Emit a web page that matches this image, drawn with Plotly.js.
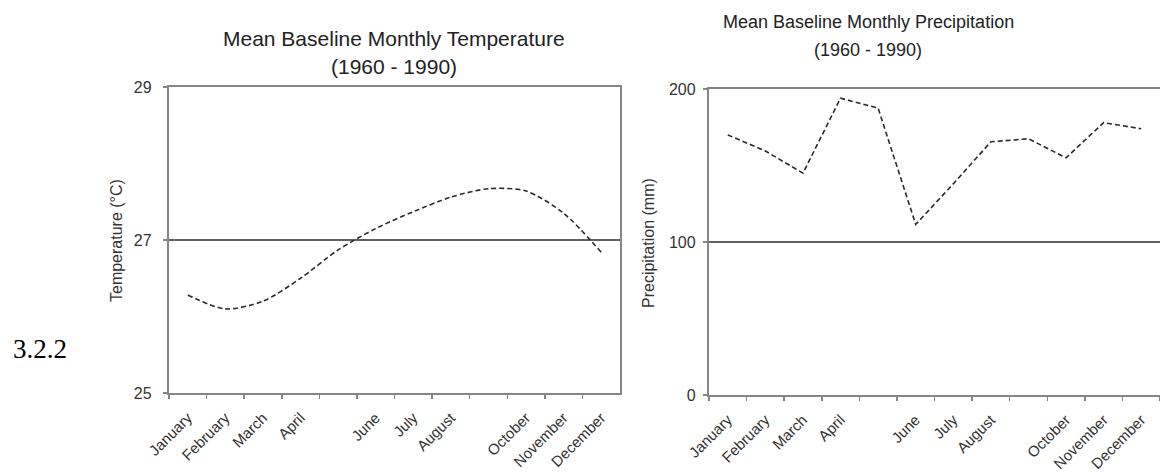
<!DOCTYPE html>
<html>
<head>
<meta charset="utf-8">
<script src="https://cdn.plot.ly/plotly-3.0.1.min.js"></script>
<style>html,body{margin:0;padding:0;background:#fff;}#chart{width:1160px;height:473px;}</style>
</head>
<body>
<div id="chart"></div>
<script>
// ---- data ----
const months = ["January","February","March","April","May","June","July","August","September","October","November","December"];
const monthLabels = ["January","February","March","April","","June","July","August","","October","November","December"];
const temperature = [26.28, 26.10, 26.20, 26.50, 26.87, 27.15, 27.37, 27.56, 27.67, 27.64, 27.35, 26.84];
const precipitation = [170, 159.5, 145, 194, 187.5, 111.5, 138, 165.5, 167.5, 155, 178, 174];
const tempTicks = [25, 27, 29];
const precipTicks = [0, 100, 200];

const FONT = "Liberation Sans, Arial, sans-serif";
const axisColor = "#858585";

const traces = [
  {x: months, y: temperature, xaxis: "x", yaxis: "y", mode: "lines",
   line: {color: "#2a2a2a", width: 1.6, dash: "5px,3px", shape: "spline", smoothing: 0.8}, hoverinfo: "x+y"},
  {x: months, y: precipitation, xaxis: "x2", yaxis: "y2", mode: "lines",
   line: {color: "#2a2a2a", width: 1.6, dash: "5px,3px"}, hoverinfo: "x+y"}
];

function xAx(domain, anchor) {
  return {domain: domain, anchor: anchor, type: "category", categoryorder: "array", categoryarray: months,
    range: [-0.5, months.length - 0.5],
    tickvals: months, ticktext: monthLabels, tickson: "boundaries", tickangle: -45,
    ticks: "outside", ticklen: 4, tickwidth: 1.5, tickcolor: axisColor, ticklabelstandoff: 8,
    showline: true, linecolor: axisColor, linewidth: 2.2, mirror: true, showgrid: false, zeroline: false,
    tickfont: {family: FONT, size: 15, color: "#333"}, fixedrange: true};
}
function yAx(domain, anchor, range, ticks, standoff, mirror) {
  return {domain: domain, anchor: anchor, range: range, tickvals: ticks, ticktext: ticks.map(String),
    ticks: "outside", ticklen: 4, tickwidth: 1.5, tickcolor: axisColor, ticklabelstandoff: standoff,
    showline: true, linecolor: axisColor, linewidth: 2.2, mirror: mirror,
    showgrid: true, gridcolor: "#616161", gridwidth: 1.5, zeroline: false,
    tickfont: {family: FONT, size: 16, color: "#333"}, fixedrange: true};
}

const layout = {
  width: 1160, height: 473, margin: {l: 0, r: 0, t: 0, b: 0},
  paper_bgcolor: "#fff", plot_bgcolor: "#fff", showlegend: false,
  xaxis: xAx([169/1160, 620/1160], "y"),
  yaxis: yAx([1 - 393/473, 1 - 87/473], "x", [25, 29], tempTicks, 8, true),
  xaxis2: xAx([709/1160, 1.0], "y2"),
  yaxis2: yAx([1 - 395/473, 1 - 89/473], "x2", [0, 200], precipTicks, 4, false),
  annotations: [
    {text: "Mean Baseline Monthly Temperature", xref: "paper", yref: "paper", x: 394/1160, y: 1 - 38/473,
     xanchor: "center", yanchor: "middle", showarrow: false, font: {family: FONT, size: 21, color: "#222"}},
    {text: "(1960 - 1990)", xref: "paper", yref: "paper", x: 394/1160, y: 1 - 66/473,
     xanchor: "center", yanchor: "middle", showarrow: false, font: {family: FONT, size: 21, color: "#222"}},
    {text: "Mean Baseline Monthly Precipitation", xref: "paper", yref: "paper", x: 868/1160, y: 1 - 22/473,
     xanchor: "center", yanchor: "middle", showarrow: false, font: {family: FONT, size: 18, color: "#222"}},
    {text: "(1960 - 1990)", xref: "paper", yref: "paper", x: 868/1160, y: 1 - 50/473,
     xanchor: "center", yanchor: "middle", showarrow: false, font: {family: FONT, size: 18, color: "#222"}},
    {text: "Temperature (°C)", xref: "paper", yref: "paper", x: 116/1160, y: 1 - 241/473, textangle: -90,
     xanchor: "center", yanchor: "middle", showarrow: false, font: {family: FONT, size: 16, color: "#333"}},
    {text: "Precipitation (mm)", xref: "paper", yref: "paper", x: 648/1160, y: 1 - 243/473, textangle: -90,
     xanchor: "center", yanchor: "middle", showarrow: false, font: {family: FONT, size: 16, color: "#333"}},
    {text: "3.2.2", xref: "paper", yref: "paper", x: 11/1160, y: 1 - 349/473,
     xanchor: "left", yanchor: "middle", showarrow: false, font: {family: "Liberation Serif, Times New Roman, serif", size: 27, color: "#000"}}
  ]
};

Plotly.newPlot("chart", traces, layout, {displayModeBar: false, staticPlot: true});
</script>
</body>
</html>
